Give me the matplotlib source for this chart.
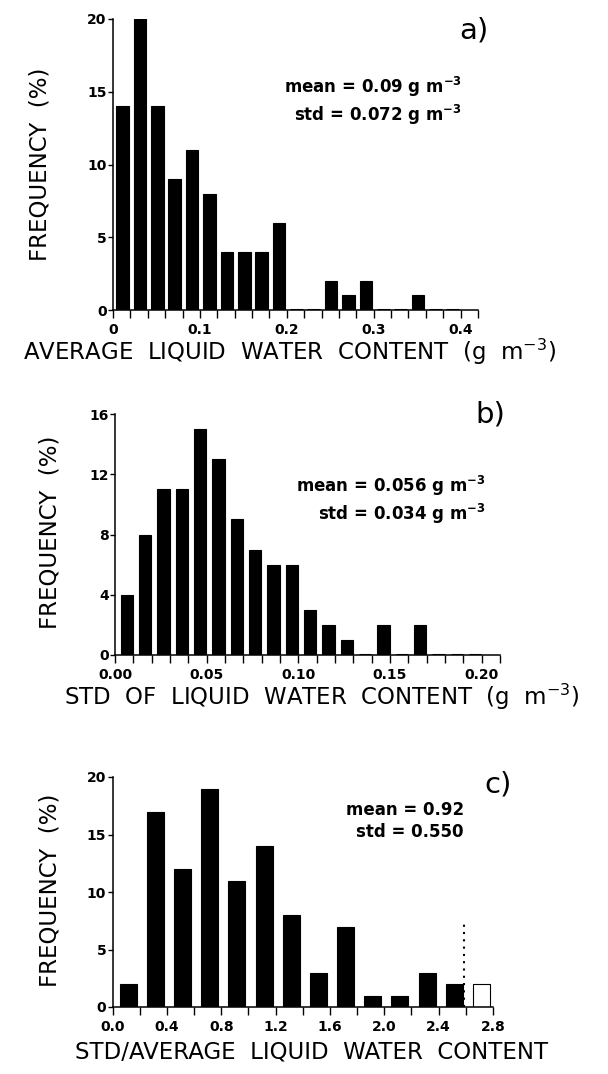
import numpy as np
import matplotlib
matplotlib.use("Agg")
import matplotlib.pyplot as plt
from matplotlib.ticker import MultipleLocator

plt.rcParams['font.family'] = ['DejaVu Sans']
plt.rcParams['mathtext.fontset'] = 'custom'
plt.rcParams['mathtext.rm'] = 'DejaVu Sans'
plt.rcParams['mathtext.bf'] = 'DejaVu Sans:bold'
plt.rcParams['mathtext.default'] = 'rm'

# a) average liquid water content, bins of 0.02 g m-3
lwc_edges = np.arange(0, 0.40, 0.02)
lwc_freq = [14, 20, 14, 9, 11, 8, 4, 4, 4, 6, 0, 0, 2, 1, 2, 0, 0, 1, 0, 0]

# b) std of liquid water content, bins of 0.01 g m-3
std_edges = np.arange(0, 0.20, 0.01)
std_freq = [4, 8, 11, 11, 15, 13, 9, 7, 6, 6, 3, 2, 1, 0, 2, 0, 2, 0, 0, 0]

# c) std/average, bins of 0.2 (last class is > 2.6)
ratio_edges = np.arange(0, 2.8, 0.2)
ratio_freq = [2, 17, 12, 19, 11, 14, 8, 3, 7, 1, 1, 3, 2, 2]
ratio_cut = 2.59

W, H = 608, 1074
fig = plt.figure(figsize=(W / 100, H / 100), dpi=100)


def fx(x):
    return x / W


def fy(y):
    return 1 - y / H


def add_ax(left, top, right, bottom):
    return fig.add_axes([fx(left), fy(bottom), fx(right - left), (bottom - top) / H])


def style(ax):
    for s in ['top', 'right']:
        ax.spines[s].set_visible(False)
    for s in ['left', 'bottom']:
        ax.spines[s].set_linewidth(1.1)
    ax.tick_params(axis='x', which='both', direction='out', length=5.5, width=1, pad=4)
    ax.tick_params(axis='y', which='both', direction='out', length=3.5, width=1, pad=1)
    for lab in ax.get_xticklabels() + ax.get_yticklabels():
        lab.set_fontweight('bold')
        lab.set_fontsize(10)


def bars(ax, x, y, w, colors='black'):
    b = ax.bar(x, y, width=w, color=colors, edgecolor='black', linewidth=0.8)
    # empty classes show up as a short thick dash on the axis
    for patch, v in zip(b.patches, y):
        if v == 0:
            patch.set_linewidth(2.2)
    return b


lab_font = dict(fontsize=16.5, family='DejaVu Sans')
note_font = dict(fontsize=12, fontweight='bold', ha='right', va='center')
note_a = 'mean = 0.09 g m$\\mathbf{^{-3}}$\nstd = 0.072 g m$\\mathbf{^{-3}}$'
note_b = 'mean = 0.056 g m$\\mathbf{^{-3}}$\nstd = 0.034 g m$\\mathbf{^{-3}}$'

# ---- a)
ax1 = add_ax(113, 19, 478, 310)
bars(ax1, lwc_edges + 0.011, lwc_freq, 0.0145)
ax1.set_xlim(0, 0.42)
ax1.set_ylim(0, 20)
ax1.set_xticks([0, 0.1, 0.2, 0.3, 0.4])
ax1.set_xticklabels(['0', '0.1', '0.2', '0.3', '0.4'])
ax1.xaxis.set_minor_locator(MultipleLocator(0.02))
ax1.set_yticks([0, 5, 10, 15, 20])
style(ax1)
fig.text(fx(474), fy(30), 'a)', fontsize=21, ha='center', va='center')
fig.text(fx(462), fy(101), note_a, linespacing=1.2, **note_font)
fig.text(fx(40), fy(164), 'FREQUENCY  (%)', rotation=90, ha='center', va='center', **lab_font)
fig.text(fx(290), fy(352), 'AVERAGE  LIQUID  WATER  CONTENT  (g  m$^{-3}$)', ha='center', va='center', **lab_font)

# ---- b)
ax2 = add_ax(115, 414, 500, 655)
bars(ax2, std_edges + 0.0065, std_freq, 0.0068)
ax2.set_xlim(0, 0.21)
ax2.set_ylim(0, 16)
ax2.set_xticks([0, 0.05, 0.10, 0.15, 0.20])
ax2.set_xticklabels(['0.00', '0.05', '0.10', '0.15', '0.20'])
ax2.xaxis.set_minor_locator(MultipleLocator(0.01))
ax2.set_yticks([0, 4, 8, 12, 16])
style(ax2)
fig.text(fx(490), fy(415), 'b)', fontsize=21, ha='center', va='center')
fig.text(fx(486), fy(500), note_b, linespacing=1.2, **note_font)
fig.text(fx(50), fy(532), 'FREQUENCY  (%)', rotation=90, ha='center', va='center', **lab_font)
fig.text(fx(322), fy(697), 'STD  OF  LIQUID  WATER  CONTENT  (g  m$^{-3}$)', ha='center', va='center', **lab_font)

# ---- c)
ax3 = add_ax(112.5, 777, 493, 1007)
colors = ['black'] * (len(ratio_freq) - 1) + ['white']
bars(ax3, ratio_edges + 0.115, ratio_freq, 0.125, colors)
ax3.plot([ratio_cut, ratio_cut], [0, 7.4], color='black', linestyle=(0, (1, 2.5)), linewidth=1.5)
ax3.set_xlim(0, 2.8)
ax3.set_ylim(0, 20)
ax3.set_xticks(np.arange(0, 2.81, 0.4))
ax3.set_xticklabels(['0.0', '0.4', '0.8', '1.2', '1.6', '2.0', '2.4', '2.8'])
ax3.xaxis.set_minor_locator(MultipleLocator(0.2))
ax3.set_yticks([0, 5, 10, 15, 20])
style(ax3)
fig.text(fx(498), fy(784), 'c)', fontsize=21, ha='center', va='center')
fig.text(fx(464), fy(821), 'mean = 0.92\nstd = 0.550', linespacing=1.3, **note_font)
fig.text(fx(50), fy(890), 'FREQUENCY  (%)', rotation=90, ha='center', va='center', **lab_font)
fig.text(fx(312), fy(1052), 'STD/AVERAGE  LIQUID  WATER  CONTENT', ha='center', va='center', **lab_font)

fig.savefig('out.png', dpi=100, facecolor='white')
